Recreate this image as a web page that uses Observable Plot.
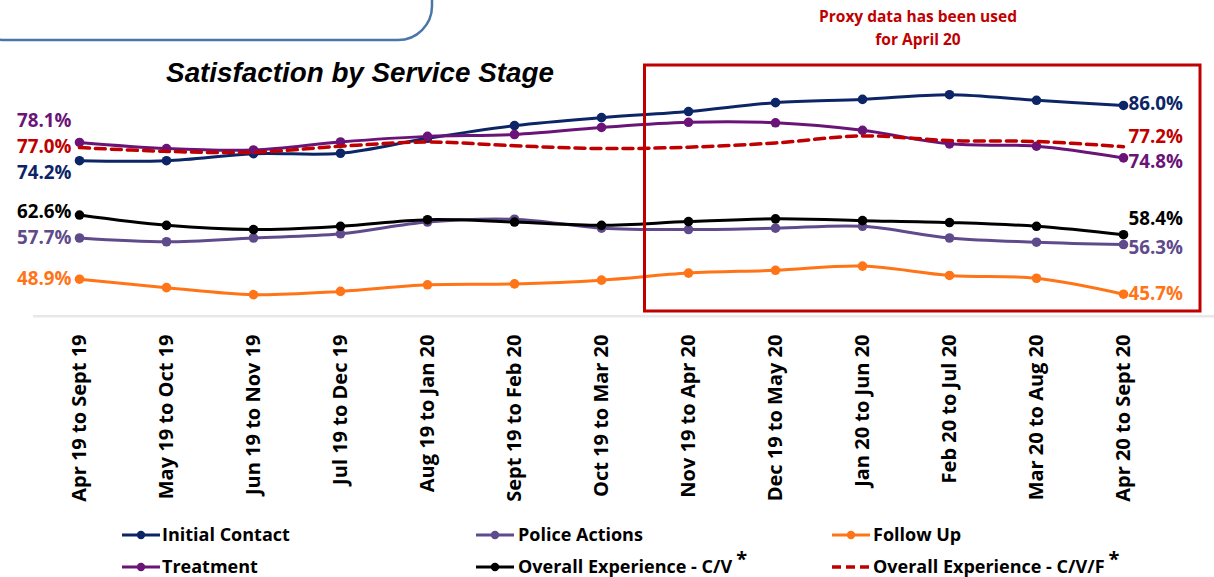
<!DOCTYPE html>
<html><head><meta charset="utf-8">
<script src="https://cdn.jsdelivr.net/npm/d3@7"></script>
<script src="https://cdn.jsdelivr.net/npm/@observablehq/plot@0.6"></script>
<style>
html,body{margin:0;padding:0;background:#fff;}
#chart{width:1214px;height:577px;overflow:hidden;position:relative;}
</style></head><body><div id="chart"></div>
<script>
// ---------------- data ----------------
const periods = ["Apr 19 to Sept 19", "May 19 to Oct 19", "Jun 19 to Nov 19", "Jul 19 to Dec 19",
  "Aug 19 to Jan 20", "Sept 19 to Feb 20", "Oct 19 to Mar 20", "Nov 19 to Apr 20",
  "Dec 19 to May 20", "Jan 20 to Jun 20", "Feb 20 to Jul 20", "Mar 20 to Aug 20", "Apr 20 to Sept 20"];
const seriesNames = ["Initial Contact", "Police Actions", "Follow Up", "Treatment",
  "Overall Experience - C/V*", "Overall Experience - C/V/F*"];
const initialContact = [74.2, 74.2, 75.7, 75.8, 79.0, 81.7, 83.4, 84.7, 86.6, 87.3, 88.3, 87.1, 86.0];
const policeActions  = [57.7, 56.9, 57.7, 58.6, 61.1, 61.7, 59.8, 59.5, 59.8, 60.2, 57.7, 56.8, 56.3];
const followUp       = [48.9, 47.1, 45.6, 46.3, 47.7, 47.9, 48.7, 50.2, 50.8, 51.7, 49.7, 49.1, 45.7];
const treatment      = [78.1, 76.8, 76.5, 78.2, 79.4, 79.8, 81.3, 82.4, 82.3, 80.7, 77.8, 77.3, 74.8];
const overallCV      = [62.6, 60.4, 59.5, 60.2, 61.6, 61.1, 60.4, 61.2, 61.8, 61.4, 61.0, 60.2, 58.4];
const overallCVF     = [77.0, 76.2, 76.0, 77.3, 78.2, 77.4, 76.8, 77.1, 78.0, 79.5, 78.5, 78.3, 77.2];
const proxyNote = ["Proxy data has been used", "for April 20"];
const titleText = "Satisfaction by Service Stage";
const proxyStart = "Nov 19 to Apr 20";

// ---------------- styles ----------------
const seriesValues = [initialContact, policeActions, followUp, treatment, overallCV, overallCVF];
const colors = ["#0b2566", "#5f4b8b", "#ff7417", "#6b1478", "#000000", "#c00000"];
const dashedSeries = seriesNames[5];
// end-label vertical offsets [left, right]
const labelDy = [[12, -1], [0, 3], [0, 0], [-21, 4], [-3, -16], [-1, -10]];
const yMin = 41, yMax = 88;

const rows = [];
seriesValues.forEach((vals, s) => vals.forEach((v, i) =>
  rows.push({series: seriesNames[s], period: periods[i], value: v, i})));
const solid = rows.filter(d => d.series !== dashedSeries);
const dashed = rows.filter(d => d.series === dashedSeries);
const last = periods.length - 1;
const fmt = d => d.value.toFixed(1) + "%";
const labelFont = {fontFamily: "Open Sans", fontWeight: "bold", fontSize: 18.8};

const labelMarks = seriesNames.flatMap((name, s) => [
  Plot.text(rows.filter(d => d.series === name && d.i === 0),
    {x: "period", y: "value", text: fmt, fill: "series", textAnchor: "end", dx: -8, dy: labelDy[s][0], ...labelFont}),
  Plot.text(rows.filter(d => d.series === name && d.i === last),
    {x: "period", y: "value", text: fmt, fill: "series", textAnchor: "start", dx: 5, dy: labelDy[s][1], ...labelFont})
]);

const plot = Plot.plot({
  width: 1214, height: 577,
  marginTop: 86, marginBottom: 261, marginLeft: 33, marginRight: 0,
  x: {type: "point", domain: periods, range: [77.5, 1125], padding: 0, label: null},
  y: {domain: [yMin, yMax], range: [315.7, 95.6], axis: null},
  color: {domain: seriesNames, range: colors},
  style: {fontFamily: "Open Sans", overflow: "visible", background: "transparent"},
  marks: [
    Plot.ruleY([yMin], {stroke: "#e8e8e8", strokeWidth: 2.5}),
    Plot.axisX({anchor: "bottom", tickSize: 0, tickPadding: 18, tickRotate: -90,
      fontSize: 20, fontWeight: "bold", fontFamily: "Open Sans", fill: "#000", label: null}),
    Plot.line(solid, {x: "period", y: "value", z: "series", stroke: "series", strokeWidth: 3, curve: "catmull-rom"}),
    Plot.dot(solid, {x: "period", y: "value", fill: "series", r: 4.8}),
    Plot.line(dashed, {x: "period", y: "value", z: "series", stroke: "series", strokeWidth: 3.5,
      strokeDasharray: "10,6", curve: "catmull-rom"}),
    ...labelMarks
  ]
});
document.getElementById("chart").appendChild(plot);

// ---------------- decorations ----------------
const svg = d3.select(plot);
const xs = plot.scale("x");
const step = (xs.apply(periods[1]) - xs.apply(periods[0]));

// rounded box top-left
svg.append("rect").attr("x", -30).attr("y", -70).attr("width", 462).attr("height", 110)
  .attr("rx", 34).attr("fill", "none").attr("stroke", "#4a76a8").attr("stroke-width", 2.5);

// title
svg.append("text").attr("x", 360).attr("y", 82).attr("text-anchor", "middle")
  .attr("font-family", "Liberation Sans, Arial, sans-serif").attr("font-weight", "bold")
  .attr("font-style", "italic").attr("font-size", 27.8).attr("fill", "#000").text(titleText);

// proxy note
proxyNote.forEach((t, k) => svg.append("text").attr("x", 918).attr("y", 22 + k * 23)
  .attr("text-anchor", "middle").attr("font-family", "Open Sans").attr("font-weight", "bold")
  .attr("font-size", 15.5).attr("fill", "#c00000").text(t));

// red box
const bx = xs.apply(proxyStart) - step / 2;
svg.append("rect").attr("x", bx).attr("y", 65).attr("width", 1200 - bx).attr("height", 246)
  .attr("fill", "none").attr("stroke", "#c00000").attr("stroke-width", 3);

// legend
const colX = [[122, 162], [476, 518], [832, 873]];
const rowY = [535, 567];
seriesNames.forEach((name, s) => {
  const c = s % 3, r = Math.floor(s / 3);
  const [sx, tx] = colX[c], cy = rowY[r];
  const g = svg.append("g");
  if (name === dashedSeries) {
    g.append("line").attr("x1", sx).attr("x2", sx + 38).attr("y1", cy).attr("y2", cy)
      .attr("stroke", colors[s]).attr("stroke-width", 3.5).attr("stroke-dasharray", "9,5");
  } else {
    g.append("line").attr("x1", sx).attr("x2", sx + 38).attr("y1", cy).attr("y2", cy)
      .attr("stroke", colors[s]).attr("stroke-width", 3);
    g.append("circle").attr("cx", sx + 19).attr("cy", cy).attr("r", 4.2).attr("fill", colors[s]);
  }
  const star = name.endsWith("*");
  const txt = g.append("text").attr("x", tx).attr("y", cy).attr("dy", "0.36em")
    .attr("text-anchor", "start")
    .attr("font-family", "Open Sans").attr("font-weight", "bold").attr("font-size", 18).attr("fill", "#000");
  txt.append("tspan").text(star ? name.slice(0, -1) : name);
  if (star) txt.append("tspan").attr("dx", 4).attr("dy", "-0.35em").attr("font-size", 20).text("*");
});
</script></body></html>
